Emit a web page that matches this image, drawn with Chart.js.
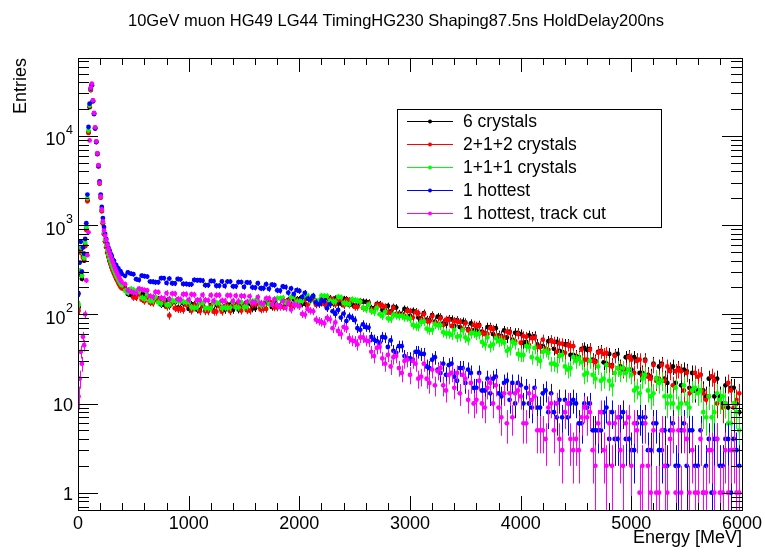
<!DOCTYPE html>
<html>
<head>
<meta charset="utf-8">
<script src="https://cdn.jsdelivr.net/npm/chart.js@4.4.1/dist/chart.umd.min.js"></script>
<style>
html,body{margin:0;padding:0;background:#ffffff;}
#wrap{width:765px;height:553px;}
</style>
</head>
<body>
<div id="wrap"><canvas id="c" width="765" height="553"></canvas></div>
<script>
// ---------- texts ----------
const TITLE = "10GeV muon HG49 LG44 TimingHG230 Shaping87.5ns HoldDelay200ns";
const X_TITLE = "Energy [MeV]";
const Y_TITLE = "Entries";
const X_TICK_LABELS = ["0","1000","2000","3000","4000","5000","6000"];
const X_TICK_VALUES = [0,1000,2000,3000,4000,5000,6000];
const Y_TICK_VALUES = [1,10,100,1000,10000];
const Y_TICK_LABELS = ["1","10","10^2","10^3","10^4"];
const SERIES_LABELS = ["6 crystals","2+1+2 crystals","1+1+1 crystals","1 hottest","1 hottest, track cut"];
const SERIES_COLORS = ["#000000","#ff0000","#00ff00","#0000ff","#ff00ff"];

// ---------- bin centres (MeV) ----------
const FINE_BIN_WIDTH = 10;
const TAIL_BIN_WIDTH = 25;
const energyFine = [5,15,25,35,45,55,65,75,85,95,105,115,125,135,145,155,165,175,185,195,
  205,215,225,235,245,255,265,275,285,295,305,315,325,335,345,355,365,375,385,395];
const energyTail = [425,475,525,575,625,675,725,775,825,875,
  925,975,1025,1075,1125,1175,1225,1275,1325,1375,
  1425,1475,1525,1575,1625,1675,1725,1775,1825,1875,
  1925,1975,2025,2075,2125,2175,2225,2275,2325,2375,
  2425,2475,2525,2575,2625,2675,2725,2775,2825,2875,
  2925,2975,3025,3075,3125,3175,3225,3275,3325,3375,
  3425,3475,3525,3575,3625,3675,3725,3775,3825,3875,
  3925,3975,4025,4075,4125,4175,4225,4275,4325,4375,
  4425,4475,4525,4575,4625,4675,4725,4775,4825,4875,
  4925,4975,5025,5075,5125,5175,5225,5275,5325,5375,
  5425,5475,5525,5575,5625,5675,5725,5775,5825,5875,
  5925,5975];
const energyMid = [450,500,550,600,650,700,750,800,850,900,
  950,1000,1050,1100,1150,1200,1250,1300,1350,1400,
  1450,1500,1550,1600,1650,1700,1750,1800,1850,1900,
  1950,2000,2050,2100,2150,2200,2250,2300,2350,2400,
  2450,2500,2550,2600,2650,2700,2750,2800,2850,2900,
  2950,3000,3050,3100,3150,3200,3250,3300,3350,3400,
  3450,3500,3550,3600,3650,3700,3750,3800,3850,3900,
  3950,4000,4050,4100,4150,4200,4250,4300,4350,4400,
  4450,4500,4550,4600,4650,4700,4750,4800,4850,4900,
  4950,5000,5050,5100,5150,5200,5250,5300,5350,5400,
  5450,5500,5550,5600,5650,5700,5750,5800,5850,5900,
  5950];

// ---------- entries per bin: "6 crystals" ----------
const sixCrystals = [120,280,520,250,450,400,600,900,1900,11000,21000,33000,37500,24800,17900,12300,8600,6300,4600,2950,
  2050,1450,1050,800,660,570,495,445,400,368,337,312,290,272,255,242,229,216,207,199,
  196,165,158,170,161,137,148,128,124,137,
  118,132,130,113,128,112,111,127,112,128,
  129,130,115,116,134,119,137,139,125,127,
  128,148,131,150,151,134,134,152,151,132,
  148,129,126,139,136,117,130,111,108,119,
  101,112,109,92,103,86,83,93,78,88,
  86,83,68,66,76,62,72,70,57,55,
  52,62,48,58,57,43,41,51,49,38,
  46,35,33,42,41,30,39,28,27,36,
  25,34,33,22,31,20,19,28,17,26,
  25,24,15,14,21,12,20,19,10,9,
  15,8];
const sixCrystalsMid = [169,160,175,166,139,152,129,143,139,119,
  133,115,129,112,112,127,127,111,128,112,
  113,130,131,117,118,137,121,123,143,145,
  147,148,131,150,133,134,152,133,132,149,
  128,125,141,138,117,131,111,124,121,102,
  115,96,107,90,87,98,94,79,89,74,
  72,81,79,66,64,72,60,58,66,64,
  62,60,49,56,46,44,50,41,39,46,
  35,34,41,40,31,38,29,36,35,26,
  33,24,31,22,21,28,26,19,24,17,
  16,23,22,14,14,19,12,12,16,15,
  10];

// ---------- "2+1+2 crystals" ----------
const twoOneTwo = [110,300,490,270,430,420,580,880,1850,10800,21500,32500,37000,24600,17700,12200,8550,6250,4550,2920,
  2030,1430,1040,790,650,565,490,440,396,362,333,309,286,269,250,240,224,214,203,196,
  191,180,153,146,156,133,145,140,97,117,
  114,128,110,125,124,108,107,123,124,108,
  125,110,111,128,130,115,133,119,121,140,
  124,144,145,128,147,130,130,148,129,146,
  144,142,121,118,132,113,126,122,104,101,
  98,109,92,103,100,83,80,90,87,74,
  83,69,66,76,74,60,70,57,55,64,
  50,60,57,45,54,43,41,50,38,47,
  45,44,32,31,40,29,38,37,26,25,
  24,33,22,31,30,19,18,27,26,16,
  24,14,13,22,21,11,20,10,9,17,
  9,13];
const twoOneTwoMid = [187,154,170,140,135,149,143,121,135,114,
  112,128,126,108,108,124,107,107,125,125,
  126,127,110,130,113,115,136,119,121,142,
  124,125,146,147,128,149,129,148,147,126,
  144,121,138,116,113,128,125,104,118,99,
  96,108,105,87,84,95,79,76,86,84,
  82,79,65,74,62,60,68,56,54,62,
  50,48,56,54,43,52,40,49,47,37,
  44,33,40,31,30,37,36,27,34,25,
  24,31,30,21,20,27,19,18,23,23,
  23,22,14,20,13,12,18,11,10,14,
  11];

// ---------- "1+1+1 crystals" ----------
const oneOneOne = [130,310,560,270,480,430,640,950,2000,11500,22000,33500,37200,24700,17900,12300,8650,6350,4650,3000,
  2100,1500,1090,830,690,600,525,470,425,390,360,333,310,290,272,258,244,232,220,212,
  184,193,183,154,167,141,136,149,128,141,
  139,137,120,119,134,118,134,134,119,119,
  120,137,122,140,142,128,130,148,151,135,
  156,139,141,161,162,143,161,141,139,155,
  133,147,142,119,128,106,100,107,89,97,
  96,92,76,73,83,67,77,75,61,59,
  56,66,52,62,60,46,44,54,51,39,
  49,36,35,43,42,30,39,28,27,35,
  24,33,32,21,30,19,18,27,16,25,
  25,24,14,13,21,12,19,18,10,10,
  9,16,9,15,14,7,7,13,12,6,
  10,5];
const oneOneOneMid = [175,189,180,149,142,157,132,128,143,141,
  139,137,118,135,117,117,135,117,118,137,
  119,120,140,142,126,147,129,151,153,135,
  157,139,160,140,141,162,160,139,157,134,
  130,144,139,114,109,118,96,90,99,95,
  92,89,74,82,69,67,75,63,61,67,
  57,55,61,59,49,55,46,50,48,41,
  47,35,44,33,32,38,37,28,34,26,
  25,30,29,22,21,26,19,18,22,22,
  22,21,15,19,14,13,17,12,12,15,
  10,10,14,13,8,12,8,11,10,6,
  8];

// ---------- "1 hottest" ----------
const oneHottest = [170,380,650,300,560,480,700,1050,2200,12600,23000,34000,37000,24500,17600,12100,8550,6300,4600,3100,
  2200,1600,1200,950,800,700,620,560,520,480,452,410,398,362,356,330,327,301,303,284,
  270,286,248,271,265,232,229,254,252,222,
  247,219,217,241,239,212,236,209,208,233,
  206,230,228,201,223,196,193,213,184,202,
  195,187,157,150,161,130,140,129,101,92,
  84,92,70,77,71,52,48,55,51,37,
  44,32,31,38,36,25,33,22,21,28,
  18,25,24,15,22,14,13,20,12,18,
  17,17,10,10,15,9,14,13,7,7,
  7,11,6,10,10,5,5,9,8,4,
  8,4,3,7,7,3,6,3,2,6,
  2,6,5,2,5,2,1,4,2,4,
  4,2];
const oneHottestMid = [295,282,243,268,233,229,255,225,223,249,
  219,217,243,241,212,237,209,234,233,206,
  230,203,227,199,196,218,215,186,205,175,
  169,183,174,146,136,143,117,108,112,102,
  95,86,67,72,56,50,56,43,39,44,
  34,32,38,36,26,31,24,28,27,20,
  25,17,22,15,14,19,19,13,17,11,
  10,16,15,9,9,13,8,8,11,11,
  10,10,6,9,5,5,8,4,4,7,
  4,3,6,6,3,6,3,5,5,2,
  5,2,5,2,1,4,4,2,4,1,
  3];

// ---------- "1 hottest, track cut" ----------
const oneHottestTrackCut = [12,19,38,28,56,45,100,240,460,830,8900,34600,38700,25100,18100,12500,8700,6400,4700,3000,
  2100,1500,1100,870,760,680,600,540,490,450,410,380,350,325,305,285,270,255,240,230,
  218,180,173,190,185,157,177,151,149,170,
  147,168,167,144,165,143,142,164,141,163,
  162,161,138,136,156,132,151,147,122,118,
  113,127,101,114,108,84,79,88,81,60,
  70,51,46,55,50,34,43,28,26,34,
  22,31,30,19,28,17,16,25,14,22,
  22,21,11,10,18,9,17,16,7,6,
  7,14,6,13,12,5,4,10,10,3,
  10,3,3,9,8,2,8,2,2,7,
  2,7,6,1,6,1,1,5,1,5,
  5,5,1,1,4,1,3,4,1,1,
  3,1];
const oneHottestTrackCutMid = [186,176,194,187,160,178,153,173,171,148,
  168,146,166,145,144,164,164,142,163,141,
  140,160,159,136,134,151,129,126,140,134,
  129,123,99,110,87,82,91,70,65,72,
  54,50,55,51,38,42,32,35,33,25,
  30,21,28,20,19,24,23,16,21,15,
  13,19,17,11,10,15,10,9,13,13,
  13,12,6,11,5,5,9,5,4,8,
  4,4,7,7,3,6,3,6,6,3,
  6,2,5,2,2,5,1,2,4,1,
  1,4,3,1,1,3,1,1,3,3,
  1];

const energy = energyFine.concat(energyTail, energyMid);
const halfWidth = energyFine.map(() => FINE_BIN_WIDTH / 2)
  .concat(energyTail.map(() => TAIL_BIN_WIDTH / 2), energyMid.map(() => TAIL_BIN_WIDTH / 2));
const SERIES_VALUES = [
  sixCrystals.concat(sixCrystalsMid),
  twoOneTwo.concat(twoOneTwoMid),
  oneOneOne.concat(oneOneOneMid),
  oneHottest.concat(oneHottestMid),
  oneHottestTrackCut.concat(oneHottestTrackCutMid)
];

const FONT = '"Liberation Sans", Arial, Helvetica, sans-serif';

// statistical error bars (sqrt of entries) plus bin-width bars, drawn under each dataset's markers
const errorBars = {
  id: 'errorBars',
  beforeDatasetDraw(chart, args) {
    const {ctx, chartArea: a, scales: {x, y}} = chart;
    const ds = chart.data.datasets[args.index];
    ctx.save();
    ctx.beginPath();
    ctx.rect(a.left, a.top, a.right - a.left, a.bottom - a.top);
    ctx.clip();
    ctx.strokeStyle = ds.borderColor;
    ctx.lineWidth = 1;
    ctx.beginPath();
    ds.data.forEach(p => {
      if (p.y == null || p.y <= 0) return;
      const e = Math.sqrt(p.y);
      const px = Math.round(x.getPixelForValue(p.x)) + 0.5;
      const py = Math.round(y.getPixelForValue(p.y)) + 0.5;
      const lo = p.y - e;
      const y1 = lo > 0 ? y.getPixelForValue(lo) : a.bottom;
      const y2 = y.getPixelForValue(p.y + e);
      ctx.moveTo(px, y1);
      ctx.lineTo(px, y2);
      ctx.moveTo(x.getPixelForValue(p.x - p.hw), py);
      ctx.lineTo(x.getPixelForValue(p.x + p.hw), py);
    });
    ctx.stroke();
    ctx.restore();
  }
};

// ROOT-style frame, ticks, labels, title and legend
const rootFrame = {
  id: 'rootFrame',
  afterDraw(chart) {
    const {ctx, chartArea: a, scales: {x, y}} = chart;
    ctx.save();
    ctx.strokeStyle = '#000';
    ctx.lineWidth = 1;
    ctx.strokeRect(Math.round(a.left) + 0.5, Math.round(a.top) + 0.5, Math.round(a.right - a.left), Math.round(a.bottom - a.top));
    ctx.beginPath();
    for (let v = x.min; v <= x.max; v += 200) {
      const px = Math.round(x.getPixelForValue(v)) + 0.5;
      const len = (v % 1000 === 0) ? 14 : 7;
      ctx.moveTo(px, a.bottom); ctx.lineTo(px, a.bottom - len);
      ctx.moveTo(px, a.top); ctx.lineTo(px, a.top + len);
    }
    for (let d = -1; d <= 5; d++) {
      for (let m = 1; m <= 9; m++) {
        const v = m * Math.pow(10, d);
        if (v < y.min || v > y.max) continue;
        const py = Math.round(y.getPixelForValue(v)) + 0.5;
        const len = (m === 1) ? 20 : 11;
        ctx.moveTo(a.left, py); ctx.lineTo(a.left + len, py);
        ctx.moveTo(a.right, py); ctx.lineTo(a.right - len, py);
      }
    }
    ctx.stroke();

    ctx.fillStyle = '#000';
    ctx.font = '18px ' + FONT;
    ctx.textAlign = 'center';
    ctx.textBaseline = 'alphabetic';
    X_TICK_VALUES.forEach((v, i) => {
      ctx.fillText(X_TICK_LABELS[i], x.getPixelForValue(v), 529);
    });
    Y_TICK_VALUES.forEach((v, i) => {
      const py = y.getPixelForValue(v);
      const lab = Y_TICK_LABELS[i];
      const right = 73;
      if (lab.indexOf('^') >= 0) {
        const [base, exp] = lab.split('^');
        ctx.font = '12.5px ' + FONT;
        ctx.textAlign = 'right';
        const ew = ctx.measureText(exp).width;
        ctx.fillText(exp, right, py - 2);
        ctx.font = '18px ' + FONT;
        ctx.fillText(base, right - ew - 0.5, py + 9.5);
      } else {
        ctx.font = '18px ' + FONT;
        ctx.textAlign = 'right';
        ctx.fillText(lab, right, py + 7);
      }
    });
    ctx.font = '18px ' + FONT;
    ctx.textAlign = 'right';
    ctx.fillText(X_TITLE, a.right, 543);
    ctx.save();
    ctx.translate(21.5, a.top);
    ctx.rotate(-Math.PI / 2);
    ctx.textAlign = 'right';
    ctx.textBaseline = 'middle';
    ctx.fillText(Y_TITLE, 0, 0);
    ctx.restore();
    ctx.font = '16.5px ' + FONT;
    ctx.textAlign = 'center';
    ctx.textBaseline = 'alphabetic';
    ctx.fillText(TITLE, 396, 26);

    const L = {x0: 397, y0: 109, x1: 661, y1: 227};
    ctx.fillStyle = '#fff';
    ctx.fillRect(L.x0, L.y0, L.x1 - L.x0, L.y1 - L.y0);
    ctx.strokeStyle = '#000';
    ctx.strokeRect(L.x0 + 0.5, L.y0 + 0.5, L.x1 - L.x0, L.y1 - L.y0);
    const rows = [121, 144, 167, 190, 213];
    chart.data.datasets.forEach((ds, i) => {
      const ry = rows[i] + 0.5;
      ctx.strokeStyle = ds.borderColor;
      ctx.lineWidth = 1;
      ctx.beginPath();
      ctx.moveTo(407, ry); ctx.lineTo(453, ry);
      ctx.stroke();
      ctx.fillStyle = ds.borderColor;
      ctx.beginPath();
      ctx.arc(430, ry, 2, 0, Math.PI * 2);
      ctx.fill();
      ctx.fillStyle = '#000';
      ctx.font = '17.5px ' + FONT;
      ctx.textAlign = 'left';
      ctx.textBaseline = 'middle';
      ctx.fillText(ds.label, 463, rows[i] + 1);
    });
    ctx.restore();
  }
};

const datasets = SERIES_VALUES.map((vals, i) => ({
  label: SERIES_LABELS[i],
  data: energy.map((e, j) => ({x: e, y: vals[j], hw: halfWidth[j]})),
  backgroundColor: SERIES_COLORS[i],
  borderColor: SERIES_COLORS[i],
  pointRadius: 2.4,
  pointHoverRadius: 2.4,
  pointBorderWidth: 0,
  showLine: false,
  order: SERIES_VALUES.length - i
}));

new Chart(document.getElementById('c').getContext('2d'), {
  type: 'scatter',
  data: {datasets},
  options: {
    responsive: false,
    animation: false,
    devicePixelRatio: 1,
    layout: {padding: {left: 78, right: 23, top: 58, bottom: 43}},
    plugins: {legend: {display: false}, title: {display: false}, tooltip: {enabled: false}},
    scales: {
      x: {type: 'linear', min: 0, max: 6000, display: false},
      y: {type: 'logarithmic', min: 0.64, max: 74800, display: false, bounds: 'data'}
    }
  },
  plugins: [errorBars, rootFrame]
});
</script>
</body>
</html>
